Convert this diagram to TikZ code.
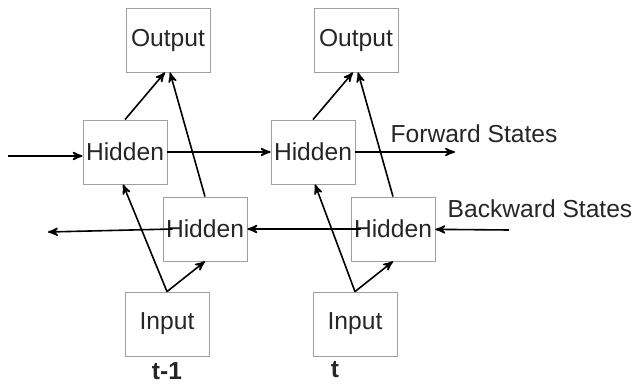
\documentclass[tikz,border=0pt]{standalone}
\usepackage{fontspec}
\setmainfont{Liberation Sans}
\usetikzlibrary{arrows,positioning}

\begin{document}
\begin{tikzpicture}[->,>=stealth',shorten >=0pt,x=0.5pt,y=-0.5pt,node distance=94pt,
		thick]
		\tikzstyle{every node}=[font=\fontsize{12.3}{14}\selectfont,text=black!85]
		\tikzstyle{cell}=[draw=gray!75,thin,minimum width=42pt,minimum height=32pt,inner sep=0pt]
		
		\useasboundingbox (0,0) rectangle (634,385);
		
		\node[cell] (out1) at (168,40)  {Output};
		\node[cell] (out2) [right of=out1] {Output};
		\node[cell] (hf1)  at (125,152) {Hidden};
		\node[cell] (hf2)  [right of=hf1]  {Hidden};
		\node[cell] (hb1)  at (205,229) {Hidden};
		\node[cell] (hb2)  [right of=hb1]  {Hidden};
		\node[cell] (in1)  at (167,324) {Input};
		\node[cell] (in2)  [right of=in1]  {Input};
		
		\node (t1) at (167,371) {\bfseries t-1};
		\node (t2) at (335,370) {\bfseries t};
		\node (fwd) at (474,134) {Forward States};
		\node (bwd) at (540,209) {Backward States};
		
		\coordinate (fin)  at (8,156);
		\coordinate (fout) at (455,152);
		\coordinate (bin)  at (509,230);
		\coordinate (bout) at (48,232);
		
		% forward states
		\path[->]
		(fin) edge (fin -| hf1.west)
		(hf1) edge (hf2)
		(hf2) edge (fout);
		
		% backward states
		\path[->]
		(bin) edge (hb2)
		([xshift=5pt]hb2.west) edge (hb1)
		([xshift=5pt]hb1.west) edge (bout);
		
		% time step t-1
		\path[->]
		(in1.north) edge ([xshift=-1pt]hf1.south)
		            edge (hb1.south)
		(hf1.north) edge ([xshift=-1.5pt]out1.south)
		(hb1.north) edge ([xshift=1pt]out1.south);
		
		% time step t
		\path[->]
		(in2.north) edge ([xshift=1pt]hf2.south)
		            edge (hb2.south)
		(hf2.north) edge ([xshift=-1.5pt]out2.south)
		(hb2.north) edge ([xshift=1pt]out2.south);
		\end{tikzpicture}
\end{document}
